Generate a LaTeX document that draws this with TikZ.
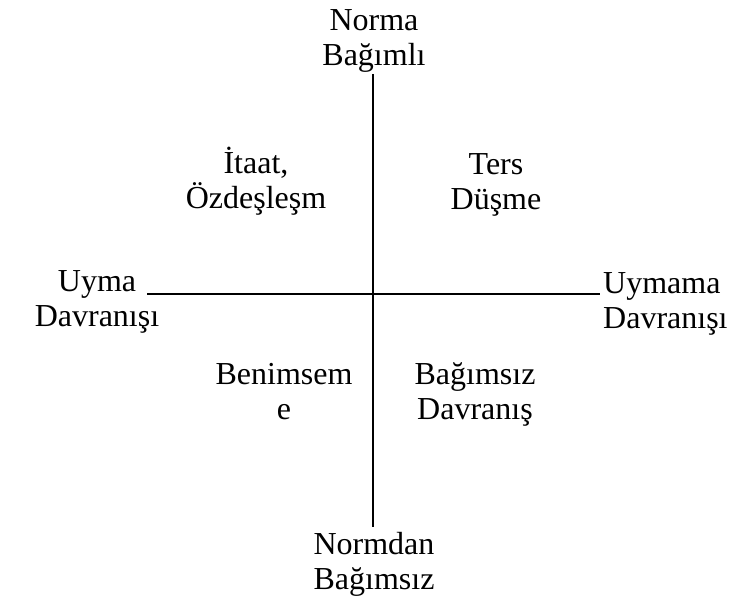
\documentclass[tikz,border=0pt]{standalone}
\usepackage{fontspec}
\setmainfont{Liberation Serif}
\begin{document}
\begin{tikzpicture}[x=1pt,y=1pt,
  lbl/.style={font=\fontsize{32}{35}\selectfont, inner sep=0pt, align=center, anchor=base},
  axis/.style={line width=2pt}]
\useasboundingbox (0,0) rectangle (732,599);
\node[lbl] (top) at (374,533) {Norma\\Bağımlı};
\node[lbl] (bottom) at (374,9) {Normdan\\Bağımsız};
\node[lbl] (itaat) at (256,390) {İtaat,\\Özdeşleşm};
\node[lbl] (ters) at (496,389) {Ters\\Düşme};
\node[lbl] (uyma) at (97,272) {Uyma\\Davranışı};
\node[lbl, align=left, anchor=base west] (uymama) at (603,270) {Uymama\\Davranışı};
\node[lbl] (benim) at (284,179) {Benimsem\\e};
\node[lbl] (bagimsiz) at (475,179) {Bağımsız\\Davranış};
\coordinate (vtop) at (373,525);
\coordinate (vbot) at (373,72);
\coordinate (hleft) at (147,305);
\coordinate (hright) at (600,305);
\draw[axis] (vtop) -- (vbot);
\draw[axis] (hleft) -- (hright);
\end{tikzpicture}
\end{document}
